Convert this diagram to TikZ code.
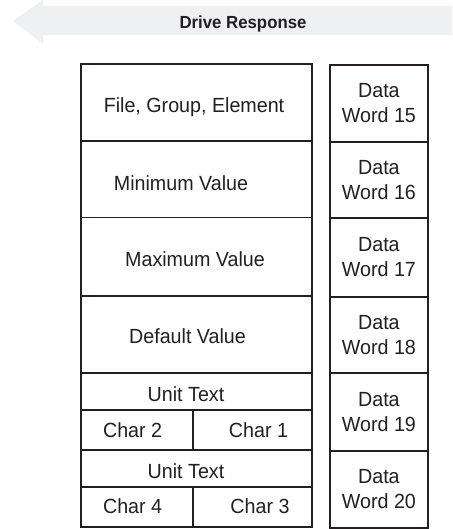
\documentclass[tikz,border=0pt]{standalone}
\usepackage{fontspec}
\setmainfont{Liberation Sans}[FakeStretch=0.96]
\definecolor{arrowgray}{HTML}{EFF0F2}
\definecolor{ink}{HTML}{231F20}
\begin{document}
\begin{tikzpicture}[x=1pt,y=-1pt,
  cell/.style={draw=ink, line width=1.8pt, anchor=north west, inner sep=0pt,
    text=ink, align=center, font=\fontsize{20.5}{25}\selectfont},
  lbl/.style={anchor=base, inner sep=0pt, text=ink, font=\fontsize{20.5}{24}\selectfont},
  ttl/.style={anchor=base, inner sep=0pt, text=ink, font=\bfseries\fontsize{17.5}{20}\selectfont}]
\useasboundingbox (0,0) rectangle (452,529);
% banner arrow
\fill[arrowgray] (13,21) -- (43,0) -- (43,6) -- (452,6) -- (452,35) -- (43,35) -- (43,44) -- cycle;
\node[ttl] (title) at (243,28.3) {Drive Response};
% left column
\node[cell, minimum width=231pt, minimum height=77pt] (fge) at (80,63) {};
\node[cell, minimum width=231pt, minimum height=76.5pt] (minv) at (80,140) {};
\node[cell, minimum width=231pt, minimum height=78.5pt] (maxv) at (80,216.5) {};
\node[cell, minimum width=231pt, minimum height=77pt] (defv) at (80,295) {};
\node[cell, minimum width=231pt, minimum height=37pt] (ut1) at (80,372) {};
\node[cell, minimum width=112pt, minimum height=40pt] (c2) at (80,409) {};
\node[cell, minimum width=119pt, minimum height=40pt] (c1) at (192,409) {};
\node[cell, minimum width=231pt, minimum height=37pt] (ut2) at (80,449) {};
\node[cell, minimum width=112pt, minimum height=40pt] (c4) at (80,486) {};
\node[cell, minimum width=119pt, minimum height=40pt] (c3) at (192,486) {};
% left labels
\node[lbl] (tfge) at (194,112.3) {File, Group, Element};
\node[lbl] (tmin) at (181,190.7) {Minimum Value};
\node[lbl] (tmax) at (195,266.7) {Maximum Value};
\node[lbl] (tdef) at (187.5,343.3) {Default Value};
\node[lbl] (tut1) at (186,401.7) {Unit Text};
\node[lbl] (tc2) at (132.6,437) {Char 2};
\node[lbl] (tc1) at (258.5,437) {Char 1};
\node[lbl] (tut2) at (186,478.3) {Unit Text};
\node[lbl] (tc4) at (132.6,513.3) {Char 4};
\node[lbl] (tc3) at (260,513.3) {Char 3};
% right column
\node[cell, minimum width=98pt, minimum height=77pt] (dw15) at (329,64) {Data\\Word 15};
\node[cell, minimum width=98pt, minimum height=76pt] (dw16) at (329,141) {Data\\Word 16};
\node[cell, minimum width=98pt, minimum height=79pt] (dw17) at (329,217) {Data\\Word 17};
\node[cell, minimum width=98pt, minimum height=76pt] (dw18) at (329,296) {Data\\Word 18};
\node[cell, minimum width=98pt, minimum height=78pt] (dw19) at (329,372) {Data\\Word 19};
\node[cell, minimum width=98pt, minimum height=77pt] (dw20) at (329,450) {Data\\Word 20};
\end{tikzpicture}
\end{document}
